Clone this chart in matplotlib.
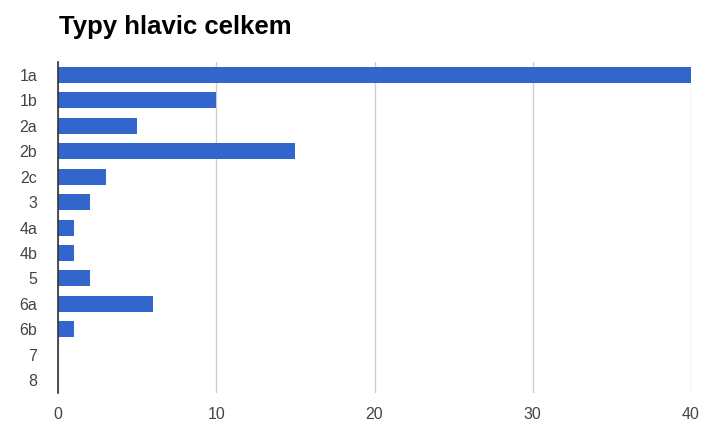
import numpy as np
import matplotlib.pyplot as plt

categories = ['1a', '1b', '2a', '2b', '2c', '3', '4a', '4b', '5', '6a', '6b', '7', '8']
values = [40, 10, 5, 15, 3, 2, 1, 1, 2, 6, 1, 0, 0]
xticks = [0, 10, 20, 30, 40]

plt.rcParams['font.family'] = ['Liberation Sans', 'DejaVu Sans']

fig = plt.figure(figsize=(7.06, 4.23), dpi=100)
ax = fig.add_axes([0.0822, 0.071, 0.8966, 0.782])

y = np.arange(len(categories))
ax.barh(y, values, height=0.63, color='#3366cc', zorder=3)

ax.set_ylim(len(categories) - 0.5, -0.5)
ax.set_xlim(0, 40)
ax.set_yticks(y)
ax.set_yticklabels(categories)
ax.set_xticks(xticks)
ax.set_xticklabels([str(t) for t in xticks])

ax.grid(axis='x', color='#cccccc', linewidth=1, zorder=0)
for s in ['top', 'right', 'bottom']:
    ax.spines[s].set_visible(False)
ax.spines['left'].set_color('#333333')
ax.spines['left'].set_linewidth(1.2)
ax.spines['left'].set_zorder(4)
ax.tick_params(axis='both', length=0, labelsize=11.5, colors='#444444')
ax.tick_params(axis='y', pad=15)
ax.tick_params(axis='x', pad=10)

fig.text(0.083, 0.935, 'Typy hlavic celkem', fontsize=18.5, fontweight='bold',
         color='#000000', ha='left', va='center')

fig.savefig('out.png', dpi=100)
